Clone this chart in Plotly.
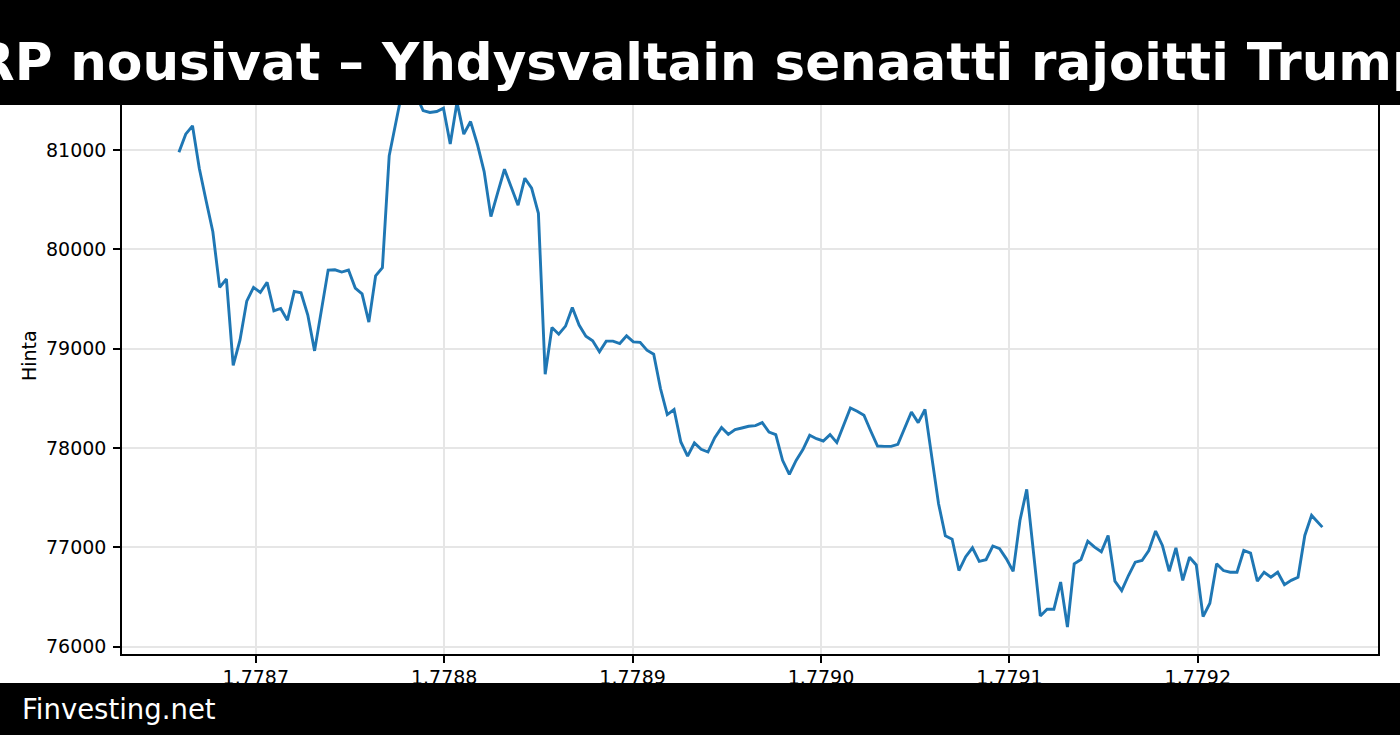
import numpy as np
import plotly.graph_objects as go

# ---- data (hourly prices, last point is an intra-hour quote) ----
start_ts = 1778659200          # first hourly timestamp (s)
hour = 3600
last_ts = 1779266100           # final, partial-hour timestamp

prices = [
    80977, 81158, 81242, 80815, 80490, 80176, 79616, 79700, 78830, 79085,
    79478, 79616, 79565, 79667, 79380, 79404, 79286, 79576, 79562, 79337,
    78977, 79385, 79790, 79793, 79770, 79790, 79609, 79551, 79266, 79733,
    79814, 80940, 81280, 81620, 81700, 81550, 81396, 81376, 81386, 81420,
    81060, 81480, 81158, 81285, 81057, 80781, 80328, 80570, 80805, 80624,
    80443, 80715, 80614, 80362, 78742, 79213, 79145, 79226, 79414, 79236,
    79125, 79078, 78967, 79075, 79075, 79051, 79128, 79068, 79062, 78984,
    78944, 78598, 78336, 78387, 78060, 77918, 78050, 77986, 77959, 78104,
    78205, 78137, 78184, 78201, 78218, 78225, 78255, 78160, 78134, 77875,
    77734, 77875, 77983, 78127, 78093, 78070, 78134, 78054, 78228, 78403,
    78369, 78329, 78170, 78019, 78016, 78016, 78036, 78195, 78362, 78255,
    78387, 77910, 77439, 77115, 77082, 76766, 76905, 76995, 76858, 76875,
    77013, 76985, 76884, 76758, 77270, 77583, 76945, 76309, 76376, 76376,
    76650, 76198, 76834, 76877, 77062, 77002, 76955, 77119, 76660, 76565,
    76716, 76850, 76867, 76968, 77163, 77018, 76759, 76995, 76667, 76900,
    76822, 76302, 76437, 76834, 76766, 76749, 76749, 76968, 76941, 76660,
    76749, 76699, 76749, 76623, 76667, 76699, 77119, 77321, 77203,
]
times = list(start_ts + hour * np.arange(len(prices) - 1)) + [last_ts]

x_tick_vals = [1778700000, 1778800000, 1778900000, 1779000000, 1779100000, 1779200000]
x_tick_text = ["1.7787", "1.7788", "1.7789", "1.7790", "1.7791", "1.7792"]
y_tick_vals = [76000, 77000, 78000, 79000, 80000, 81000]
y_tick_text = ["76000", "77000", "78000", "79000", "80000", "81000"]

title_text = "RP nousivat – Yhdysvaltain senaatti rajoitti Trump"
footer_text = "Finvesting.net"
y_label = "Hinta"

# ---- layout geometry ----
W, H = 1400, 735
L, R, T, B = 122, 1378, 53, 654   # plot area in px


def px_x(p):
    return (p - L) / (R - L)


def px_y(p):
    return (B - p) / (B - T)


FONT = "DejaVu Sans"

fig = go.Figure()
fig.add_trace(go.Scatter(
    x=times, y=prices, mode="lines",
    line=dict(color="#1f77b4", width=2.9),
    hoverinfo="skip", showlegend=False,
))

axis_common = dict(
    showline=True, linecolor="black", linewidth=1.5, mirror=True,
    ticks="outside", ticklen=7, tickwidth=1.5, tickcolor="black",
    showgrid=True, gridcolor="#e6e6e6", gridwidth=1.5,
    zeroline=False,
    tickfont=dict(family=FONT, size=19, color="black"),
)

fig.update_xaxes(
    range=[1778628981, 1779295648],
    tickmode="array", tickvals=x_tick_vals, ticktext=x_tick_text,
    ticklabelstandoff=-2,
    **axis_common,
)
fig.update_yaxes(
    range=[75926, 81975],
    tickmode="array", tickvals=y_tick_vals, ticktext=y_tick_text,
    ticklabelstandoff=3,
    **axis_common,
)

# black bars (title + footer)
fig.add_shape(type="rect", xref="paper", yref="paper",
              x0=px_x(-5), x1=px_x(W + 5), y0=px_y(105), y1=px_y(-5),
              fillcolor="black", line=dict(width=0), layer="above")
fig.add_shape(type="rect", xref="paper", yref="paper",
              x0=px_x(-5), x1=px_x(W + 5), y0=px_y(H + 5), y1=px_y(683),
              fillcolor="black", line=dict(width=0), layer="above")

fig.add_annotation(
    text="<b>" + title_text + "</b>", xref="paper", yref="paper",
    x=px_x(702), y=px_y(62), xanchor="center", yanchor="middle",
    showarrow=False, font=dict(family=FONT, size=51.5, color="white"),
)
fig.add_annotation(
    text=footer_text, xref="paper", yref="paper",
    x=px_x(20), y=px_y(709), xanchor="left", yanchor="middle",
    showarrow=False, font=dict(family=FONT, size=27.5, color="white"),
)
fig.add_annotation(
    text=y_label, xref="paper", yref="paper",
    x=px_x(29), y=px_y(356), xanchor="center", yanchor="middle",
    textangle=-90, showarrow=False,
    font=dict(family=FONT, size=19, color="black"),
)

fig.update_layout(
    width=W, height=H,
    margin=dict(l=L, r=W - R, t=T, b=H - B, pad=0),
    paper_bgcolor="white", plot_bgcolor="white",
    showlegend=False,
)

fig.write_html(
    "out.html",
    config={"displayModeBar": False},
    post_script="document.body.style.margin='0';document.body.style.overflow='hidden';",
)
